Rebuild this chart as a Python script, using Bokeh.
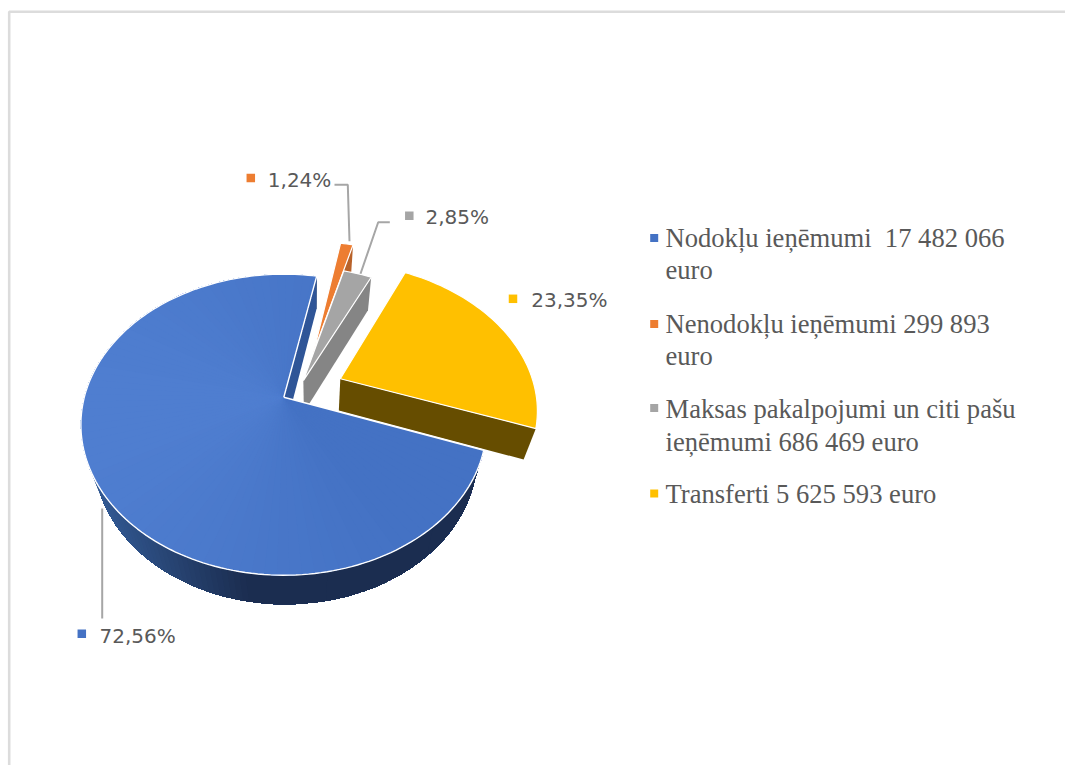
import math
from bokeh.plotting import figure
from bokeh.models import Range1d
from bokeh.core.properties import value
from bokeh.embed import file_html
from bokeh.resources import INLINE

# ---- data ----
categories = ["Nodokļu ieņēmumi", "Nenodokļu ieņēmumi", "Maksas pakalpojumi un citi pašu ieņēmumi", "Transferti"]
euro_values = [17482066, 299893, 686469, 5625593]
percent_labels = ["72,56%", "1,24%", "2,85%", "23,35%"]
legend_lines = [
    ["Nodokļu ieņēmumi\u00a0 17 482 066", "euro"],
    ["Nenodokļu ieņēmumi 299 893", "euro"],
    ["Maksas pakalpojumi un citi pašu", "ieņēmumi 686 469 euro"],
    ["Transferti 5 625 593 euro"],
]
top_colors = ["#4472C4", "#ED7D31", "#A5A5A5", "#FFC000"]
wall_colors = ["#2F5597", "#B8622A", "#858585", "#664D00"]

# ---- layout ----
W, H = 1065, 765
CX, CY = 283.3, 396.7       # pie centre on the page
KX, KY, PERSP = 199.5, 145.5, 0.1827
FIRST_ANGLE = 110.0
EXPLODE = [(0, 0), (0.1586, 0.331), (0.1, 0.1167), (0.29, 0.1295)]
RADIUS = [1.0, 1.0, 0.95, 0.985]
LABEL_FONT, LABEL_SIZE = "DejaVu Sans", 20
LEG_FONT, LEG_SIZE = "Liberation Serif", 26.6
TEXT_COLOR = "#595959"

p = figure(width=W, height=H, x_range=Range1d(0, W), y_range=Range1d(H, 0),
           x_axis_type=None, y_axis_type=None, toolbar_location=None,
           output_backend="svg", min_border=0)
p.outline_line_color = None
p.grid.visible = False
p.background_fill_color = "white"
p.border_fill_color = "white"


def proj(wx, wy):
    d = 1 + PERSP * wy
    return CX + KX * wx / d, CY - KY * wy / d


def slice_pt(i, deg):
    r = RADIUS[i]
    a = math.radians(deg)
    return proj(EXPLODE[i][0] + r * math.sin(a), EXPLODE[i][1] + r * math.cos(a))


def drop(pt):
    x, y = pt
    return 313 + (x - 313) * 0.945, y + 33 - 0.0132 * (y - 272)


def mix(c1, c2, t):
    t = max(0, min(1, t))
    a = [int(c1[k:k + 2], 16) for k in (1, 3, 5)]
    b = [int(c2[k:k + 2], 16) for k in (1, 3, 5)]
    return "#%02x%02x%02x" % tuple(round(u + (v - u) * t) for u, v in zip(a, b))


total = sum(euro_values)
sweeps = [v / total * 360 for v in euro_values]
starts = []
acc = FIRST_ANGLE
for s in sweeps:
    starts.append(acc)
    acc += s


def arc(i, n=None):
    s, e = starts[i], starts[i] + sweeps[i]
    n = n or max(4, int(sweeps[i] / 1.5))
    return [slice_pt(i, s + (e - s) * k / n) for k in range(n + 1)]


def top_polygon(i):
    return [proj(*EXPLODE[i])] + arc(i)


def patch(pts, color, lc=None, lw=0.0):
    if lc:
        p.patch([q[0] for q in pts], [q[1] for q in pts], fill_color=color, line_color=lc, line_width=lw)
    else:
        p.patch([q[0] for q in pts], [q[1] for q in pts], fill_color=color, line_color=None)


def cut_wall(i, deg):
    apex, rim = proj(*EXPLODE[i]), slice_pt(i, deg)
    return [apex, rim, drop(rim), drop(apex)]


# border of the chart area
p.line([W, 8.7, 8.7], [11.3, 11.3, H], line_color="#DCDCDC", line_width=2.6)

arc0 = arc(0, 175)

# outer wall of the big slice, shaded left to right; drawn from right to left,
# each band running on under the next so that no seams show
for k in range(len(arc0) - 1, 0, -1):
    pts = arc0[:k + 1]
    if pts[-1][0] > 250 and k < 60:
        t = 1.0
        if k % 20:
            continue
    else:
        t = (pts[-1][0] - 92) / 150
    patch(pts + [drop(q) for q in reversed(pts)], mix("#335A94", "#1B2D50", t))

# inner wall of the big slice
patch(cut_wall(0, starts[0] + sweeps[0]), wall_colors[0])

# exploded slices: wall first, then top
for i in (1, 2, 3):
    patch(cut_wall(i, starts[i] + sweeps[i]), wall_colors[i])
    patch(top_polygon(i), top_colors[i], "white", 1.2)

# top of the big slice, shaded by overlapping colour bands
apex0 = proj(*EXPLODE[0])
for k in range(0, len(arc0) - 1, 2):
    pts = arc0[k:]
    t = (pts[0][0] - 81) / 330
    patch([apex0] + pts, mix("#4F7ED0", top_colors[0], t))
poly0 = [apex0] + arc0 + [apex0]
p.line([q[0] for q in poly0], [q[1] for q in poly0], line_color="white", line_width=1.4)

# leader lines
LEADER = "#A6A6A6"
p.line([334, 347.3, 349], [184.3, 184.3, 240.7], line_color=LEADER, line_width=2)
p.line([389.3, 377.7, 360], [221.7, 221.7, 273.3], line_color=LEADER, line_width=2)
p.line([101.7, 101.7], [508, 618], line_color=LEADER, line_width=2)

# percentage labels with their small squares
label_mark = [(81.3, 633.3), (250.3, 177.5), (408.8, 215.2), (512.5, 298.3)]
label_text = [(99, 635), (267.3, 179), (425, 216.3), (530.7, 299.3)]
p.scatter([m[0] for m in label_mark], [m[1] for m in label_mark], marker="square", size=8.5,
          fill_color=top_colors, line_color=None)
p.text([t[0] for t in label_text], [t[1] for t in label_text], text=percent_labels,
       text_font=value(LABEL_FONT), text_font_size=f"{LABEL_SIZE}px", text_color=TEXT_COLOR,
       text_align="left", text_baseline="alphabetic")

# legend
leg_mark_y = [237.5, 323.5, 407.5, 493]
leg_base_y = [[237.5, 269.5], [323.2, 355.5], [408.5, 441.5], [493.2]]
p.scatter([653.7] * 4, leg_mark_y, marker="square", size=8, fill_color=top_colors, line_color=None)
lx, ly, lt = [], [], []
for lines, ys in zip(legend_lines, leg_base_y):
    for s, y in zip(lines, ys):
        lx.append(665)
        ly.append(y)
        lt.append(s)
p.text(lx, ly, text=lt, text_font=value(LEG_FONT), text_font_size=f"{LEG_SIZE}px",
       text_color=TEXT_COLOR, text_align="left", text_baseline="alphabetic")

open("out.html", "w").write(file_html(p, INLINE))
